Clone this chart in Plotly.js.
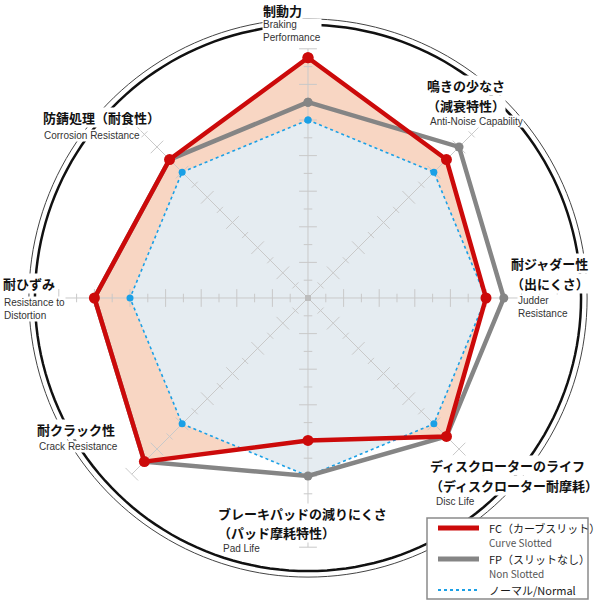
<!DOCTYPE html>
<html>
<head>
<meta charset="utf-8">
<script src="https://cdn.plot.ly/plotly-3.0.1.min.js"></script>
<style>
  html, body { margin: 0; padding: 0; background: #fff; }
  #chart { width: 599px; height: 600px; }
</style>
</head>
<body>
<div id="chart"></div>
<script>
// axes, clockwise from the top
const categories = ['制動力', '鳴きの少なさ', '耐ジャダー性', 'ディスクローターのライフ',
  'ブレーキパッドの減りにくさ', '耐クラック性', '耐ひずみ', '防錆処理']

// values (normal = 5 on every axis)
const fcValues = [6.75, 5.5, 5.0, 5.5, 4.0, 6.5, 6.0, 5.5]
const fpValues = [5.5, 6.0, 5.5, 5.5, 5.0, 6.5, 6.0, 5.5]
const normalValues = [5, 5, 5, 5, 5, 5, 5, 5]

// scale marks on each spoke
const majorTicks = [1, 2, 3, 4, 5, 6, 7]
const minorTicks = [0.5, 1.5, 2.5, 3.5, 4.5, 5.5, 6.5]
const spokeEnd = 7

const seriesNames = ['FC（カーブスリット）', 'FP（スリットなし）', 'ノーマル/Normal']
const seriesSub = ['Curve Slotted', 'Non Slotted', '']
const seriesColors = ['#cc0a0a', '#858585', '#1aa0e6']

const angles = categories.map((c, i) => i * 45)
const close = arr => arr.concat(arr[0])

// spokes with small cross ticks
function gridTrace() {
  var r = [], th = []
  angles.forEach(function (a) {
    r.push(0, spokeEnd, null); th.push(a, a, null)
    function tick(v, h) {
      var rr = Math.sqrt(v * v + h * h)
      var d = Math.atan(h / v) * 180 / Math.PI
      r.push(rr, rr, null); th.push(a - d, a + d, null)
    }
    majorTicks.forEach(v => tick(v, 0.25))
    minorTicks.forEach(v => tick(v, 0.12))
  })
  return {
    type: 'scatterpolar', mode: 'lines', r: r, theta: th,
    line: {color: '#c9c9c9', width: 1}, hoverinfo: 'skip'
  }
}

function ring(radius, color, width) {
  var r = [], th = []
  for (var a = 0; a <= 360; a += 2) { r.push(radius); th.push(a) }
  return {
    type: 'scatterpolar', mode: 'lines', r: r, theta: th,
    line: {color: color, width: width}, hoverinfo: 'skip'
  }
}

var fcFill = {
  type: 'scatterpolar', mode: 'none', r: close(fcValues), theta: close(angles),
  fill: 'toself', fillcolor: '#f8d6c3', hoverinfo: 'skip'
}
var normalFill = {
  type: 'scatterpolar', mode: 'none', r: close(normalValues), theta: close(angles),
  fill: 'toself', fillcolor: '#e5ecf1', hoverinfo: 'skip'
}
var centerDot = {
  type: 'scatterpolar', mode: 'markers', r: [0], theta: [0],
  marker: {symbol: 'square', size: 6, color: '#bdbdbd'}, hoverinfo: 'skip'
}
var normalLine = {
  type: 'scatterpolar', mode: 'lines+markers', r: close(normalValues), theta: close(angles),
  line: {color: seriesColors[2], width: 1.6, dash: 'dot'},
  marker: {color: seriesColors[2], size: 7}, name: seriesNames[2]
}
var fpLine = {
  type: 'scatterpolar', mode: 'lines+markers', r: close(fpValues), theta: close(angles),
  line: {color: seriesColors[1], width: 4.5},
  marker: {color: seriesColors[1], size: 9}, name: seriesNames[1]
}
var fcLine = {
  type: 'scatterpolar', mode: 'lines+markers', r: close(fcValues), theta: close(angles),
  line: {color: seriesColors[0], width: 4.5},
  marker: {color: seriesColors[0], size: 11}, name: seriesNames[0]
}

var data = [fcFill, normalFill, gridTrace(), centerDot,
  ring(7.67, '#111', 2.5), ring(7.84, '#444', 1),
  normalLine, fpLine, fcLine]

// axis labels: Japanese lines (one box each), English caption block
const jpFont = {family: '"Noto Sans CJK JP", sans-serif', size: 13, color: '#111'}
const enFont = {family: '"Liberation Sans", Arial, sans-serif', size: 10, color: '#333'}
const jpStep = 19
const labels = [
  [['制動力'], 262, 10, ['Braking', 'Performance'], 262, 25],
  [['鳴きの少なさ', '（減衰特性）'], 426, 86, ['Anti-Noise Capability'], 429, 121],
  [['耐ジャダー性', '（出にくさ）'], 510, 264, ['Judder', 'Resistance'], 517, 300],
  [['ディスクローターのライフ', '（ディスクローター耐摩耗）'], 429, 466, ['Disc Life'], 435, 501],
  [['ブレーキパッドの減りにくさ', '（パッド摩耗特性）'], 217, 513, ['Pad Life'], 222, 548],
  [['耐クラック性'], 36, 429, ['Crack Resistance'], 38, 446],
  [['耐ひずみ'], 2, 283, ['Resistance to', 'Distortion'], 3, 302],
  [['防錆処理（耐食性）'], 42, 117, ['Corrosion Resistance'], 43, 135]
]
function textBox(text, x, y, font) {
  return {
    text: text, xref: 'paper', yref: 'paper', x: x / 599, y: 1 - y / 600,
    xanchor: 'left', yanchor: 'middle', showarrow: false, align: 'left',
    bgcolor: '#ffffff', borderpad: 0, font: font
  }
}
var annotations = []
labels.forEach(function (l) {
  l[0].forEach(function (t, k) {
    annotations.push(textBox('<b>' + t + '</b>', l[1], l[2] + k * jpStep, jpFont))
  })
  var sp = enFont.size * 1.3
  annotations.push(textBox(l[3].join('<br>'), l[4], l[5] + (l[3].length - 1) * sp / 2, enFont))
})

// legend drawn by hand: box, line samples, two-line labels
const legFont = {family: '"Noto Sans CJK JP", sans-serif', size: 11, color: '#1a1a1a'}
const legRows = [528, 559, 590]
var shapes = [{
  type: 'rect', xref: 'paper', yref: 'paper', layer: 'above',
  x0: 427 / 599, x1: 588 / 599, y0: 1 - 599 / 600, y1: 1 - 518 / 600,
  fillcolor: '#ffffff', line: {color: '#8a8a8a', width: 1.5}
}]
seriesNames.forEach(function (name, i) {
  shapes.push({
    type: 'line', xref: 'paper', yref: 'paper', layer: 'above',
    x0: 438 / 599, x1: 479 / 599, y0: 1 - legRows[i] / 600, y1: 1 - legRows[i] / 600,
    line: i === 2 ? {color: seriesColors[i], width: 2, dash: 'dot'} : {color: seriesColors[i], width: 5}
  })
  var txt = name
  if (seriesSub[i]) txt += '<br><span style="font-size:10px;color:#555">' + seriesSub[i] + '</span>'
  var n = seriesSub[i] ? 2 : 1
  annotations.push({
    text: txt, xref: 'paper', yref: 'paper', x: 487 / 599,
    y: 1 - (legRows[i] + (n - 1) * legFont.size * 1.3 / 2) / 600,
    xanchor: 'left', yanchor: 'middle', showarrow: false, align: 'left', font: legFont
  })
})

var layout = {
  width: 599, height: 600,
  margin: {l: 0, r: 0, t: 0, b: 0},
  paper_bgcolor: '#ffffff',
  showlegend: false,
  polar: {
    domain: {x: [23.2 / 599, 592.8 / 599], y: [17.2 / 600, 586.8 / 600]},
    bgcolor: '#ffffff',
    radialaxis: {range: [0, 8], visible: false},
    angularaxis: {
      rotation: 90, direction: 'clockwise', thetaunit: 'degrees',
      showgrid: false, showline: false, showticklabels: false, ticks: ''
    }
  },
  shapes: shapes,
  annotations: annotations
}

Plotly.newPlot('chart', data, layout, {displayModeBar: false, staticPlot: true})
</script>
</body>
</html>
